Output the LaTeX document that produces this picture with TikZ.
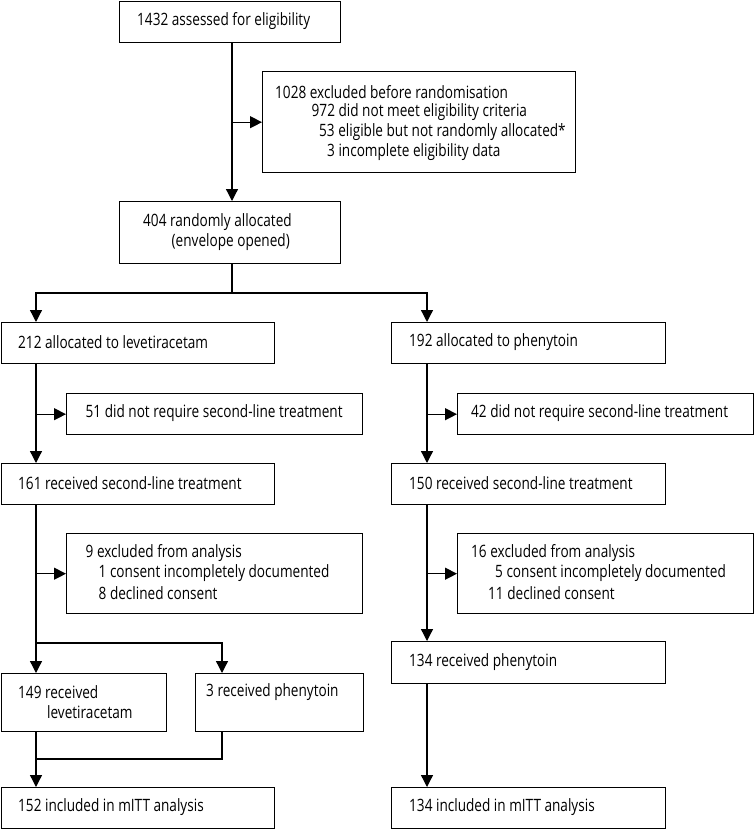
\documentclass[tikz,border=0pt]{standalone}
\usepackage{fontspec}
\setmainfont[FakeStretch=0.8]{Open Sans}
\usetikzlibrary{arrows.meta}
\begin{document}
\begin{tikzpicture}[x=1pt,y=-1pt,
  box/.style={draw,line width=1.4pt,inner sep=0pt,anchor=north west},
  txt/.style={anchor=west,inner sep=0pt,font=\fontsize{17}{20}\selectfont},
  ln/.style={line width=1.3pt},
  arr/.style={line width=1.3pt,-{Triangle[length=12pt,width=12pt]}}]
\useasboundingbox (0,0) rectangle (754,829);
% boxes
\node[box,minimum width=221pt,minimum height=41pt] (b1) at (119,1) {};
\node[box,minimum width=313pt,minimum height=101pt] (exc) at (262,71) {};
\node[box,minimum width=221pt,minimum height=62pt] (b404) at (119,201) {};
\node[box,minimum width=273pt,minimum height=41pt] (b212) at (1,322) {};
\node[box,minimum width=274pt,minimum height=41pt] (b192) at (391,322) {};
\node[box,minimum width=296pt,minimum height=41pt] (b51) at (66,393) {};
\node[box,minimum width=296pt,minimum height=41pt] (b42) at (457,393) {};
\node[box,minimum width=273pt,minimum height=41pt] (b161) at (1,463) {};
\node[box,minimum width=274pt,minimum height=41pt] (b150) at (391,463) {};
\node[box,minimum width=296pt,minimum height=80pt] (b9) at (66,533) {};
\node[box,minimum width=296pt,minimum height=80pt] (b16) at (457,533) {};
\node[box,minimum width=274pt,minimum height=42pt] (b134r) at (391,641) {};
\node[box,minimum width=165pt,minimum height=58pt] (b149) at (1,673) {};
\node[box,minimum width=168pt,minimum height=58pt] (b3) at (195,673) {};
\node[box,minimum width=273pt,minimum height=41pt] (b152) at (1,787) {};
\node[box,minimum width=274pt,minimum height=41pt] (b134m) at (391,787) {};
% texts
\node[txt] (t1) at (137,21.5) {1432 assessed for eligibility};
\node[txt] (te1) at (275,92) {1028 excluded before randomisation};
\node[txt] (te2) at (311.5,112) {972 did not meet eligibility criteria};
\node[txt] (te3) at (319,132) {53 eligible but not randomly allocated*};
\node[txt] (te4) at (327,152) {3 incomplete eligibility data};
\node[txt] (t404a) at (143,222) {404 randomly allocated};
\node[txt] (t404b) at (171.5,242) {(envelope opened)};
\node[txt] (t212) at (18,342.5) {212 allocated to levetiracetam};
\node[txt] (t192) at (409,342.5) {192 allocated to phenytoin};
\node[txt] (t51) at (85.5,413.5) {51 did not require second-line treatment};
\node[txt] (t42) at (471,413.5) {42 did not require second-line treatment};
\node[txt] (t161) at (18,483.5) {161 received second-line treatment};
\node[txt] (t150) at (409,483.5) {150 received second-line treatment};
\node[txt] (t9a) at (85.5,553) {9 excluded from analysis};
\node[txt] (t9b) at (98.5,573) {1 consent incompletely documented};
\node[txt] (t9c) at (98.5,593) {8 declined consent};
\node[txt] (t16a) at (471,553) {16 excluded from analysis};
\node[txt] (t16b) at (495,573) {5 consent incompletely documented};
\node[txt] (t16c) at (488,593) {11 declined consent};
\node[txt] (t134r) at (409,662) {134 received phenytoin};
\node[txt] (t149a) at (18,692) {149 received};
\node[txt] (t149b) at (47,712) {levetiracetam};
\node[txt] (t3) at (206,692) {3 received phenytoin};
\node[txt] (t152) at (18,807.5) {152 included in mITT analysis};
\node[txt] (t134m) at (409,807.5) {134 included in mITT analysis};
% spine coordinates
\coordinate (mx) at (232,0);
\coordinate (lx) at (36,0);
\coordinate (rx) at (427,0);
\coordinate (px) at (222,0);
\coordinate (split) at (232,293);
\coordinate (lsplit) at (36,643);
\coordinate (merge) at (36,759);
% connectors
\draw[arr] (b1.south -| mx) -- (b404.north -| mx);
\draw[arr] (exc.west -| mx) -- (exc.west);
\draw[ln] (b404.south -| mx) -- (split);
\draw[arr] (split) -| (b212.north -| lx);
\draw[arr] (split) -| (b192.north -| rx);
\draw[arr] (b212.south -| lx) -- (b161.north -| lx);
\draw[arr] (b51.west -| lx) -- (b51.west);
\draw[arr] (b192.south -| rx) -- (b150.north -| rx);
\draw[arr] (b42.west -| rx) -- (b42.west);
\draw[ln] (b161.south -| lx) -- (lsplit);
\draw[arr] (b9.west -| lx) -- (b9.west);
\draw[arr] (lsplit) -- (b149.north -| lx);
\draw[arr] (lsplit) -| (b3.north -| px);
\draw[arr] (b150.south -| rx) -- (b134r.north -| rx);
\draw[arr] (b16.west -| rx) -- (b16.west);
\draw[ln] (b149.south -| lx) -- (merge);
\draw[ln] (b3.south -| px) |- (merge);
\draw[arr] (merge) -- (b152.north -| lx);
\draw[arr] (b134r.south -| rx) -- (b134m.north -| rx);
\end{tikzpicture}
\end{document}
